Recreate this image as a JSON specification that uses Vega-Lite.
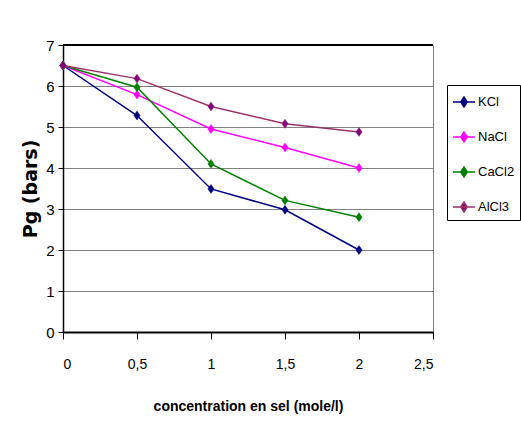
{
  "$schema": "https://vega.github.io/schema/vega-lite/v6.json",
  "width": 370,
  "height": 287,
  "autosize": "none",
  "padding": {"left": 63, "top": 45, "right": 88, "bottom": 112},
  "background": "white",
  "config": {
    "font": "Liberation Sans",
    "view": {"stroke": "#808080", "strokeWidth": 1},
    "legend": {
      "orient": "none", "legendX": 384, "legendY": 40,
      "direction": "vertical",
      "strokeColor": "black", "padding": 5,
      "fillColor": "white",
      "symbolType": "M-1,0H1M-0.3,0L0,-0.45L0.3,0L0,0.45Z",
      "symbolSize": 484, "symbolStrokeWidth": 1.5,
      "labelFontSize": 13, "labelColor": "black", "labelOffset": 2,
      "rowPadding": 15, "titlePadding": 0
    }
  },
  "data": {
    "values": [
      {"c": 0, "pg": 6.5, "sel": "KCl"},
      {"c": 0.5, "pg": 5.28, "sel": "KCl"},
      {"c": 1, "pg": 3.49, "sel": "KCl"},
      {"c": 1.5, "pg": 2.98, "sel": "KCl"},
      {"c": 2, "pg": 2.0, "sel": "KCl"},
      {"c": 0, "pg": 6.5, "sel": "NaCl"},
      {"c": 0.5, "pg": 5.79, "sel": "NaCl"},
      {"c": 1, "pg": 4.95, "sel": "NaCl"},
      {"c": 1.5, "pg": 4.5, "sel": "NaCl"},
      {"c": 2, "pg": 4.0, "sel": "NaCl"},
      {"c": 0, "pg": 6.5, "sel": "CaCl2"},
      {"c": 0.5, "pg": 5.97, "sel": "CaCl2"},
      {"c": 1, "pg": 4.1, "sel": "CaCl2"},
      {"c": 1.5, "pg": 3.21, "sel": "CaCl2"},
      {"c": 2, "pg": 2.8, "sel": "CaCl2"},
      {"c": 0, "pg": 6.5, "sel": "AlCl3"},
      {"c": 0.5, "pg": 6.18, "sel": "AlCl3"},
      {"c": 1, "pg": 5.5, "sel": "AlCl3"},
      {"c": 1.5, "pg": 5.08, "sel": "AlCl3"},
      {"c": 2, "pg": 4.88, "sel": "AlCl3"}
    ]
  },
  "layer": [
    {
      "mark": {"type": "line", "strokeWidth": 1.5},
      "encoding": {
        "x": {
          "field": "c", "type": "quantitative",
          "scale": {"domain": [0, 2.5], "nice": false},
          "axis": {
            "title": "concentration en sel (mole/l)",
            "titleFontSize": 14, "titleFontWeight": "bold", "titleColor": "black",
            "titlePadding": 28,
            "values": [0, 0.5, 1, 1.5, 2, 2.5],
            "labelExpr": "replace(format(datum.value, '~g'), '.', ',')",
            "labelFontSize": 14, "labelColor": "black", "labelPadding": 18,
            "tickSize": 7, "tickColor": "black", "tickWidth": 1,
            "domainColor": "black", "domainWidth": 2,
            "grid": false
          }
        },
        "y": {
          "field": "pg", "type": "quantitative",
          "scale": {"domain": [0, 7], "nice": false},
          "axis": {
            "title": "Pg (bars)",
            "titleFont": "DejaVu Sans",
            "titleFontSize": 19, "titleFontWeight": "bold", "titleColor": "black",
            "titlePadding": 5,
            "values": [0, 1, 2, 3, 4, 5, 6, 7],
            "labelFontSize": 15, "labelColor": "black", "labelPadding": 4,
            "tickSize": 5, "tickColor": "black",
            "domainColor": "black", "domainWidth": 1.5,
            "grid": true, "gridColor": "#808080", "gridWidth": 1.2, "gridOpacity": 1
          }
        },
        "stroke": {
          "field": "sel", "type": "nominal",
          "scale": {"domain": ["KCl", "NaCl", "CaCl2", "AlCl3"], "range": ["#000080", "#FF00FF", "#008000", "#993366"]},
          "legend": {"title": null}
        }
      }
    },
    {
      "mark": {"type": "point", "filled": true, "shape": "M-0.7,0L0,-1L0.7,0L0,1Z", "size": 80, "opacity": 1, "strokeWidth": 0.5},
      "encoding": {
        "x": {"field": "c", "type": "quantitative"},
        "y": {"field": "pg", "type": "quantitative"},
        "fill": {
          "field": "sel", "type": "nominal",
          "scale": {"domain": ["KCl", "NaCl", "CaCl2", "AlCl3"], "range": ["#000080", "#FF00FF", "#008000", "#800080"]},
          "legend": {"title": null}
        },
        "stroke": {
          "field": "sel", "type": "nominal",
          "legend": {"title": null}
        }
      }
    },
    {
      "mark": {"type": "rule", "color": "black", "strokeWidth": 2},
      "encoding": {"y": {"datum": 7, "type": "quantitative"}}
    }
  ]
}
